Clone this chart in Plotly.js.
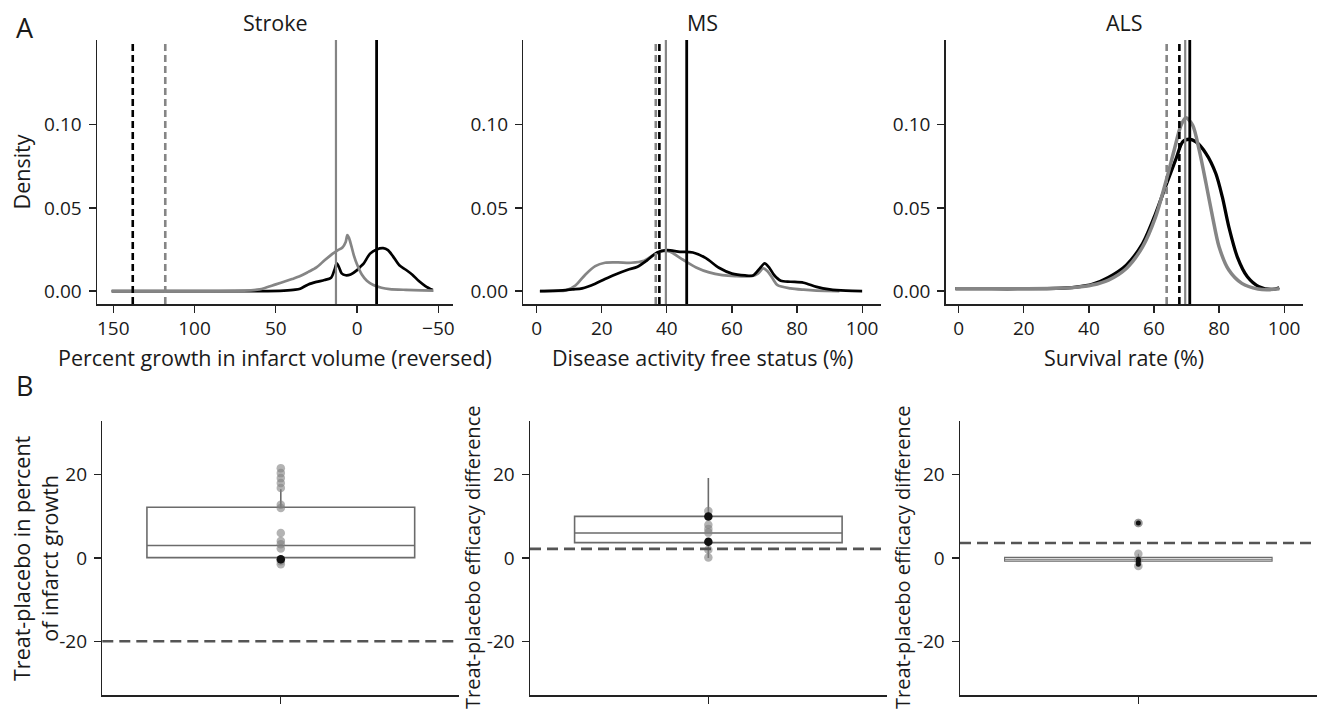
<!DOCTYPE html>
<html>
<head>
<meta charset="utf-8">
<script src="https://cdn.plot.ly/plotly-3.0.1.min.js"></script>
<style>html,body{margin:0;padding:0;background:#fff;}#chart{width:1325px;height:715px;}</style>
</head>
<body>
<div id="chart"></div>
<script>
// ---------- Data ----------
// Panel A: density curves (treatment = black, placebo = grey)
const strokeBlackX = [151, 120, 90, 60, 45, 38, 35, 30, 25, 20, 16, 14, 12.5, 11, 9.5, 7, 4, 0, -2, -4, -8, -12, -16, -19, -22, -26, -30, -34, -38, -42, -46.5];
const strokeBlackY = [0, 0, 0, 0, 0.0003, 0.0008, 0.0014, 0.0040, 0.0055, 0.0066, 0.0080, 0.0125, 0.0166, 0.0140, 0.0106, 0.0095, 0.0100, 0.0126, 0.0146, 0.0165, 0.0225, 0.0250, 0.0258, 0.0246, 0.0210, 0.0155, 0.0128, 0.0098, 0.0060, 0.0030, 0.0006];
const strokeGreyX = [151, 120, 90, 70, 60, 50, 40, 35, 30, 25, 20, 15, 12, 9, 7, 6, 5, 3.5, 2, 0, -3, -6, -10, -15, -20, -30, -40, -47];
const strokeGreyY = [0, 0, 0, 0.0002, 0.0010, 0.0040, 0.0072, 0.0090, 0.0115, 0.0142, 0.0185, 0.0225, 0.0245, 0.0262, 0.0295, 0.0336, 0.0320, 0.0270, 0.0215, 0.0160, 0.0098, 0.0062, 0.0036, 0.0020, 0.0012, 0.0007, 0.0004, 0.0003];

const msBlackX = [1, 5, 8, 11, 14, 18, 21, 24, 28, 31, 34, 37, 40, 44, 48, 52, 56, 60, 64, 66.5, 68.5, 70, 71.5, 73, 75, 78, 82, 86, 90, 95, 100];
const msBlackY = [0, 0.0001, 0.0004, 0.0010, 0.0016, 0.0044, 0.0072, 0.0098, 0.0128, 0.0146, 0.0186, 0.0232, 0.0246, 0.0236, 0.0232, 0.0198, 0.0140, 0.0105, 0.0094, 0.0094, 0.0135, 0.0166, 0.0140, 0.0095, 0.0062, 0.0056, 0.0050, 0.0025, 0.0010, 0.0002, 0];
const msGreyX = [1, 5, 9, 12, 15, 18, 21, 25, 29, 33, 36, 39, 41, 45, 49, 53, 57, 61, 66, 68, 69.6, 71, 72.5, 74, 78, 82, 86, 93];
const msGreyY = [0, 0.0001, 0.0004, 0.0035, 0.0100, 0.0150, 0.0170, 0.0172, 0.0170, 0.0182, 0.0218, 0.0240, 0.0236, 0.0188, 0.0142, 0.0112, 0.0096, 0.0090, 0.0090, 0.0105, 0.0136, 0.0118, 0.0075, 0.0035, 0.0016, 0.0008, 0.0003, 0];

const alsBlackX = [-1, 10, 20, 30, 36, 41, 46, 51.5, 56.5, 60.5, 63.5, 66.8, 68.8, 70.8, 72.9, 76, 79, 81, 83, 85.6, 88.7, 92.3, 96.4, 98.5];
const alsBlackY = [0.0014, 0.0014, 0.0014, 0.0016, 0.0024, 0.0040, 0.0082, 0.0156, 0.0286, 0.0466, 0.0626, 0.0797, 0.0897, 0.0913, 0.0897, 0.0827, 0.0707, 0.0566, 0.0386, 0.0206, 0.0086, 0.0026, 0.0010, 0.0020];
const alsGreyX = [-1, 10, 20, 30, 36, 41, 46, 51.5, 56.5, 60.5, 63.5, 66.2, 68.3, 69.8, 71.9, 73.9, 76, 78, 80, 83, 87, 92, 95, 98.5];
const alsGreyY = [0.0014, 0.0014, 0.0014, 0.0016, 0.0022, 0.0036, 0.0066, 0.0136, 0.0266, 0.0446, 0.0647, 0.0847, 0.0997, 0.1043, 0.0997, 0.0847, 0.0647, 0.0446, 0.0266, 0.0126, 0.0046, 0.0012, 0.0008, 0.0014];

// Vertical reference lines per panel, order: black dashed, grey dashed, grey solid, black solid
const strokeVLines = [138, 118, 13, -12];
const msVLines = [37.7, 36.6, 39.7, 46.1];
const alsVLines = [67.8, 63.9, 69.6, 71.0];

// Panel B: box statistics (Stroke, MS, ALS)
const boxQ1 = [0.1, 3.7, -0.75];
const boxMedian = [3.0, 6.0, -0.3];
const boxQ3 = [12.2, 10.0, 0.15];
const boxLower = [-1.5, 0.0, -1.9];
const boxUpper = [16.5, 19.2, 1.0];
// Panel B: dashed thresholds
const thresholds = [-20, 2.2, 3.6];
// Panel B: individual points
const strokeGreyPts = [21.6, 20.4, 19.2, 18.0, 16.8, 12.8, 12.0, 6.0, 4.1, 3.3, 2.3, -0.8, -1.5];
const strokeBlackPts = [-0.3];
const msGreyPts = [11.3, 8.0, 7.0, 6.1, 2.0, 0.1];
const msBlackPts = [10.0, 3.9];
const alsGreyPts = [8.4, 8.4, 1.0, -0.5, -1.9];
const alsBlackPts = [8.4, -0.3, -0.8, -1.5];

// Tick labels
const densityTicks = [0, 0.05, 0.1];
const strokeTicks = [150, 100, 50, 0, -50];
const pctTicks = [0, 20, 40, 60, 80, 100];
const diffTicks = [-20, 0, 20];
const diffTickText = ['-20', '0', '20'];

const panelTitles = ['Stroke', 'MS', 'ALS'];
const xTitles = ['Percent growth in infarct volume (reversed)', 'Disease activity free status (%)', 'Survival rate (%)'];
const yTitleTop = 'Density';
const yTitlesBottom = ['Treat-placebo in percent<br>of infarct growth', 'Treat-placebo efficacy difference', 'Treat-placebo efficacy difference'];

// ---------- Layout helpers ----------
const W = 1325, H = 715;
const FONT = 'Open Sans, Noto Sans, DejaVu Sans, sans-serif';
const TXT = '#1a1a1a';
const GREY = '#858585';
const fx = p => p / W;
const fy = p => 1 - p / H;

const topY = [fy(304), fy(40)];
const botY = [fy(695.3), fy(420.7)];
const topX = [[fx(97), fx(453)], [fx(523.3), fx(880.7)], [fx(945.7), fx(1302.7)]];
const botX = [[fx(102.3), fx(459.3)], [fx(530), fx(886.7)], [fx(960), fx(1316.7)]];

function baseAxis(extra) {
  return Object.assign({
    showline: true, linecolor: '#222', linewidth: 1.5, mirror: false,
    showgrid: false, zeroline: false,
    ticks: 'outside', ticklen: 7, tickwidth: 1.3, tickcolor: '#222',
    ticklabelstandoff: 3,
    tickfont: { family: FONT, size: 19, color: TXT },
    fixedrange: true
  }, extra);
}

const traces = [];
function curve(x, y, color, width, ax) {
  traces.push({
    type: 'scatter', mode: 'lines', x: x, y: y,
    line: { color: color, width: width, shape: 'spline', smoothing: 0.8 },
    xaxis: 'x' + ax, yaxis: 'y' + ax, hoverinfo: 'skip', showlegend: false
  });
}
// Stroke
curve(strokeBlackX, strokeBlackY, '#000', 2.7, '');
curve(strokeGreyX, strokeGreyY, GREY, 2.7, '');
// MS
curve(msGreyX, msGreyY, GREY, 2.7, '2');
curve(msBlackX, msBlackY, '#000', 2.7, '2');
// ALS
curve(alsBlackX, alsBlackY, '#000', 3.3, '3');
curve(alsGreyX, alsGreyY, GREY, 3.5, '3');

// Box plots and points
const ptsGrey = [strokeGreyPts, msGreyPts, alsGreyPts];
const ptsBlack = [strokeBlackPts, msBlackPts, alsBlackPts];
for (let i = 0; i < 3; i++) {
  const ax = String(i + 4);
  traces.push({
    type: 'box', x: [1], q1: [boxQ1[i]], median: [boxMedian[i]], q3: [boxQ3[i]],
    lowerfence: [boxLower[i]], upperfence: [boxUpper[i]],
    width: 0.75, whiskerwidth: 0, boxpoints: false,
    fillcolor: 'rgba(255,255,255,0)', line: { color: '#6b6b6b', width: i === 2 ? 1.1 : 1.6 },
    xaxis: 'x' + ax, yaxis: 'y' + ax, hoverinfo: 'skip', showlegend: false
  });
  traces.push({
    type: 'scatter', mode: 'markers', x: ptsGrey[i].map(() => 1), y: ptsGrey[i],
    marker: { color: 'rgba(128,128,128,0.6)', size: 8.5, line: { width: 0 } },
    xaxis: 'x' + ax, yaxis: 'y' + ax, hoverinfo: 'skip', showlegend: false
  });
  traces.push({
    type: 'scatter', mode: 'markers', x: ptsBlack[i].map(() => 1), y: ptsBlack[i],
    marker: { color: '#111', size: i === 2 ? 5 : 8.5, line: { width: 0 } },
    xaxis: 'x' + ax, yaxis: 'y' + ax, hoverinfo: 'skip', showlegend: false
  });
}

// Shapes: vertical lines in A, dashed thresholds in B
const vStyles = [
  { color: '#000', width: 2.6, dash: '7px,4px' },
  { color: GREY, width: 2.6, dash: '7px,4px' },
  { color: GREY, width: 2.2, dash: 'solid' },
  { color: '#000', width: 2.8, dash: 'solid' }
];
const shapes = [];
[strokeVLines, msVLines, alsVLines].forEach((arr, p) => {
  const xr = p === 0 ? 'x' : 'x' + (p + 1);
  const yr = p === 0 ? 'y domain' : 'y' + (p + 1) + ' domain';
  arr.forEach((v, k) => {
    shapes.push({ type: 'line', xref: xr, yref: yr, x0: v, x1: v, y0: 0, y1: 1, line: vStyles[k], layer: 'above' });
  });
});
thresholds.forEach((v, i) => {
  const ax = String(i + 4);
  shapes.push({ type: 'line', xref: 'x' + ax + ' domain', yref: 'y' + ax, x0: 0, x1: 1, y0: v, y1: v,
    line: { color: '#555', width: 2.6, dash: '11px,6px' }, layer: 'above' });
});

const titleFont = { family: FONT, size: 21.5, color: TXT };
const annotations = [
  { text: 'A', xref: 'paper', yref: 'paper', x: fx(14), y: fy(27.5), xanchor: 'left', yanchor: 'middle', showarrow: false, font: { family: FONT, size: 27, color: TXT } },
  { text: 'B', xref: 'paper', yref: 'paper', x: fx(14), y: fy(386), xanchor: 'left', yanchor: 'middle', showarrow: false, font: { family: FONT, size: 27, color: TXT } }
];
panelTitles.forEach((t, i) => {
  annotations.push({ text: t, xref: 'paper', yref: 'paper', x: (topX[i][0] + topX[i][1]) / 2, y: fy(22),
    xanchor: 'center', yanchor: 'middle', showarrow: false, font: titleFont });
});
// Top-row x titles
xTitles.forEach((t, i) => {
  annotations.push({ text: t, xref: 'paper', yref: 'paper', x: (topX[i][0] + topX[i][1]) / 2, y: fy(357),
    xanchor: 'center', yanchor: 'middle', showarrow: false, font: titleFont });
});
// Bottom-row y titles (rotated text placed next to the tick labels)
const botTitleX = [35, 472, 902];
const botMidY = (botY[0] + botY[1]) / 2;
yTitlesBottom.forEach((t, i) => {
  annotations.push({ text: t, xref: 'paper', yref: 'paper', x: fx(botTitleX[i]), y: botMidY,
    xanchor: 'center', yanchor: 'middle', textangle: -90, showarrow: false,
    font: { family: FONT, size: i === 0 ? 21.5 : 20, color: TXT } });
});

const layout = {
  width: W, height: H,
  margin: { l: 0, r: 0, t: 0, b: 0 },
  paper_bgcolor: '#fff', plot_bgcolor: '#fff',
  showlegend: false,
  font: { family: FONT, color: TXT },
  xaxis: baseAxis({ domain: topX[0], anchor: 'y', range: [160, -59], tickvals: strokeTicks, ticklabelstandoff: 0 }),
  yaxis: baseAxis({ domain: topY, anchor: 'x', range: [-0.0078, 0.151], tickvals: densityTicks, tickformat: '.2f',
    title: { text: yTitleTop, font: titleFont, standoff: 7 } }),
  xaxis2: baseAxis({ domain: topX[1], anchor: 'y2', range: [-4.1, 105.7], tickvals: pctTicks, ticklabelstandoff: 0 }),
  yaxis2: baseAxis({ domain: topY, anchor: 'x2', range: [-0.0078, 0.151], tickvals: densityTicks, tickformat: '.2f' }),
  xaxis3: baseAxis({ domain: topX[2], anchor: 'y3', range: [-4.0, 105.7], tickvals: pctTicks, ticklabelstandoff: 0 }),
  yaxis3: baseAxis({ domain: topY, anchor: 'x3', range: [-0.0078, 0.151], tickvals: densityTicks, tickformat: '.2f' }),
  shapes: shapes,
  annotations: annotations
};
for (let i = 0; i < 3; i++) {
  const ax = String(i + 4);
  layout['xaxis' + ax] = baseAxis({ domain: botX[i], anchor: 'y' + ax, type: 'linear', range: [0.5, 1.5],
    tickvals: [1], ticktext: [' '] });
  layout['yaxis' + ax] = baseAxis({ domain: botY, anchor: 'x' + ax, range: [-33, 33], tickvals: diffTicks, ticktext: diffTickText });
}

Plotly.newPlot('chart', traces, layout, { staticPlot: true, displayModeBar: false });
</script>
</body>
</html>
